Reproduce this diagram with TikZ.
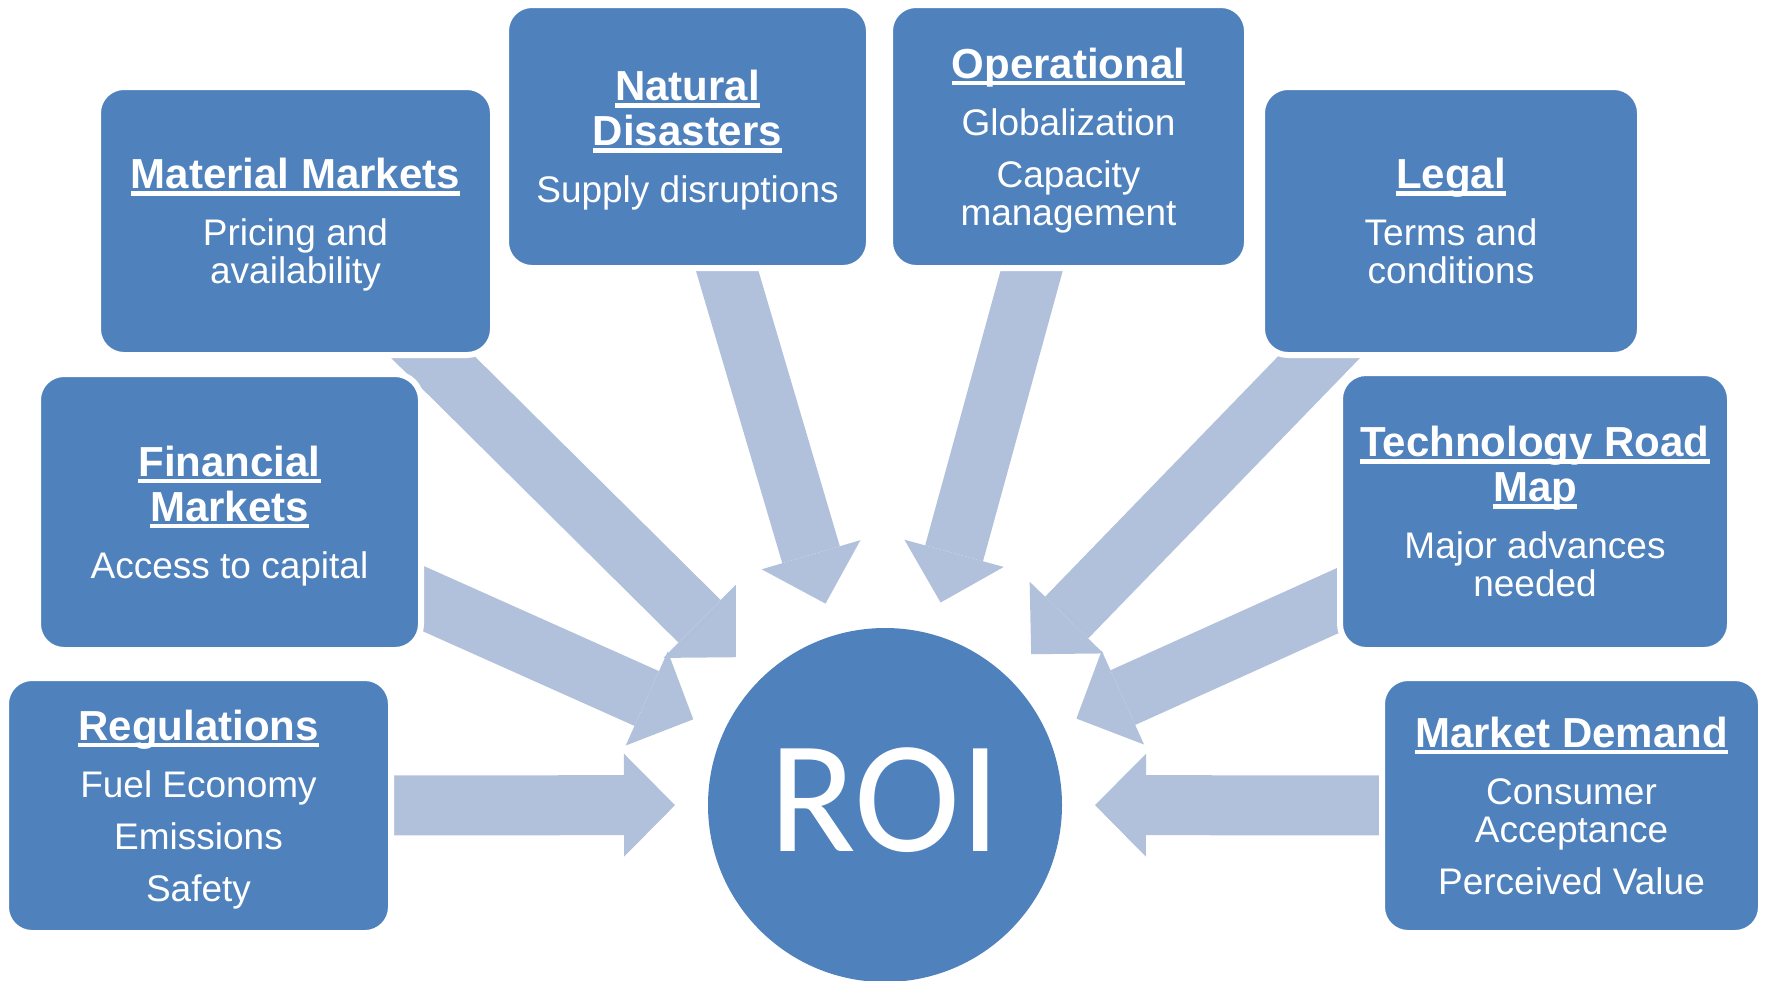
\documentclass[tikz,border=0pt]{standalone}
\usepackage{fontspec}
\setmainfont{Liberation Sans}
\newfontfamily\roifont{Carlito}
\usetikzlibrary{arrows.meta,calc,backgrounds}

\definecolor{boxblue}{HTML}{4F81BD}
\definecolor{flowblue}{HTML}{B2C1DB}

% underlined heading, rule at a fixed depth
\newcommand{\hd}[1]{{\fontsize{21}{22}\selectfont\bfseries\setbox0=\hbox{#1}\rlap{\rule[-3.5pt]{\wd0}{2.2pt}}\box0}}

\begin{document}
\begin{tikzpicture}[x=0.5pt, y=-0.5pt]
	\tikzstyle{box} = [rectangle, rounded corners=13pt, fill=boxblue, draw=white, line width=3pt, text=white, align=center, inner sep=0pt, text depth=0pt, font=\fontsize{18.5}{19}\selectfont]
	\tikzstyle{flow} = [draw=flowblue, line width=30pt, shorten >=105pt, -{Triangle[length=25.5pt, width=51.5pt, line width=0pt]}]

	\useasboundingbox (0,0) rectangle (1765,980);

	\node[circle, fill=boxblue, minimum size=177pt, inner sep=0pt, text=white, text depth=5.5pt, font=\roifont\fontsize{80}{80}\selectfont](roi) at (885,805){ROI};

	\node[box, minimum width=197.5pt, minimum height=134pt](mat) at (295.5,221){\hd{Material Markets}\\[9.5pt]Pricing and\\availability};
	\node[box, minimum width=181.5pt, minimum height=131.5pt](nat) at (687.5,136.5){\hd{Natural}\\[3.5pt]\hd{Disasters}\\[9.5pt]Supply disruptions};
	\node[box, minimum width=178.5pt, minimum height=131.5pt](ope) at (1068.5,136.5){\hd{Operational}\\[9.5pt]Globalization\\[7pt]Capacity\\management};
	\node[box, minimum width=189pt, minimum height=134pt](leg) at (1451,221){\hd{Legal}\\[9.5pt]Terms and\\conditions};
	\node[box, minimum width=191.5pt, minimum height=138pt](fin) at (229.5,512){\hd{Financial}\\[3.5pt]\hd{Markets}\\[9.5pt]Access to capital};
	\node[box, minimum width=195pt, minimum height=138.5pt](tec) at (1535,511.5){\hd{Technology Road}\\[3.5pt]\hd{Map}\\[9.5pt]Major advances\\needed};
	\node[box, minimum width=192.5pt, minimum height=127.5pt](reg) at (198.5,805.5){\hd{Regulations}\\[9.5pt]Fuel Economy\\[7pt]Emissions\\[7pt]Safety};
	\node[box, minimum width=189.5pt, minimum height=127.5pt](dem) at (1571.5,805.5){\hd{Market Demand}\\[9.5pt]Consumer\\Acceptance\\[7pt]Perceived Value};

	\begin{scope}[on background layer]
		\foreach \src in {mat,nat,ope,leg,fin,tec,reg,dem}
			\draw[flow] (\src.center) -- (roi.center);
	\end{scope}
\end{tikzpicture}
\end{document}
